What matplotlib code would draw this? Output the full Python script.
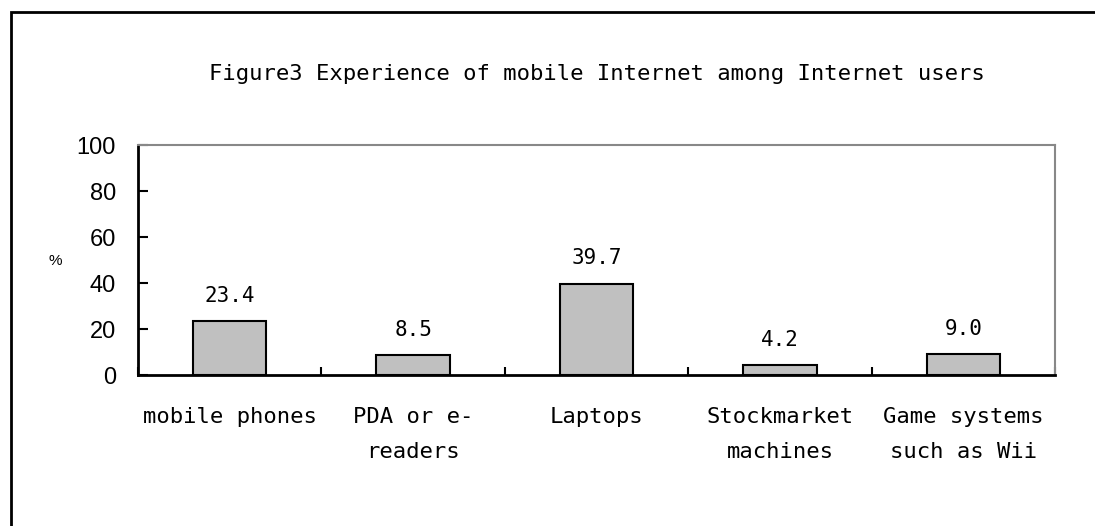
import matplotlib
matplotlib.use("Agg")
import matplotlib.pyplot as plt
from matplotlib.patches import Rectangle
import numpy as np

# Data
categories = ["mobile phones", "PDA or e-\nreaders", "Laptops",
              "Stockmarket\nmachines", "Game systems\nsuch as Wii"]
values = [23.4, 8.5, 39.7, 4.2, 9.0]
value_labels = ["23.4", "8.5", "39.7", "4.2", "9.0"]
y_ticks = [0, 20, 40, 60, 80, 100]
title = "Figure3 Experience of mobile Internet among Internet users"

W, H = 1095, 526
fig = plt.figure(figsize=(W / 100, H / 100), dpi=100)
fig.patch.set_facecolor("white")

ax = fig.add_axes([138 / W, 1 - 375 / H, (1055 - 138) / W, (375 - 145) / H])

x = np.arange(len(categories))
ax.bar(x, values, width=0.4, color="#c0c0c0", edgecolor="black", linewidth=1.5, zorder=3)

ax.set_xlim(-0.5, len(categories) - 0.5)
ax.set_ylim(0, 100)

# Value labels above bars
for xi, v, lab in zip(x, values, value_labels):
    ax.annotate(lab, (xi, v), xytext=(0, 11), textcoords="offset points",
                ha="center", va="bottom", fontsize=15, family="DejaVu Sans Mono")

# Y axis
ax.set_yticks(y_ticks)
ax.set_yticklabels([str(t) for t in y_ticks], fontsize=17, family="Liberation Sans")
ax.tick_params(axis="y", direction="in", length=7, width=1.5, pad=16)

# X axis: labels at centers, tick marks at category boundaries
ax.set_xticks(x)
ax.set_xticklabels(categories, fontsize=16, family="DejaVu Sans Mono", linespacing=1.95)
ax.tick_params(axis="x", which="major", length=0, pad=23)
ax.set_xticks(np.arange(-0.5, len(categories)), minor=True)
ax.tick_params(axis="x", which="minor", direction="in", length=6, width=1.5)

for side in ["left", "bottom"]:
    ax.spines[side].set_color("black")
    ax.spines[side].set_linewidth(2)
for side in ["top", "right"]:
    ax.spines[side].set_color("#888888")
    ax.spines[side].set_linewidth(1.5)

ax.set_title(title, fontsize=16, family="DejaVu Sans Mono", pad=47)

fig.text(55 / W, 1 - 261 / H, "%", fontsize=11, family="Liberation Sans",
         ha="center", va="center")

# Outer chart-area border
fig.patches.append(Rectangle((11 / W, -0.1), 2, 1.1 - 12 / H, transform=fig.transFigure,
                             fill=False, edgecolor="black", linewidth=2))

fig.savefig("out.png", dpi=100)
